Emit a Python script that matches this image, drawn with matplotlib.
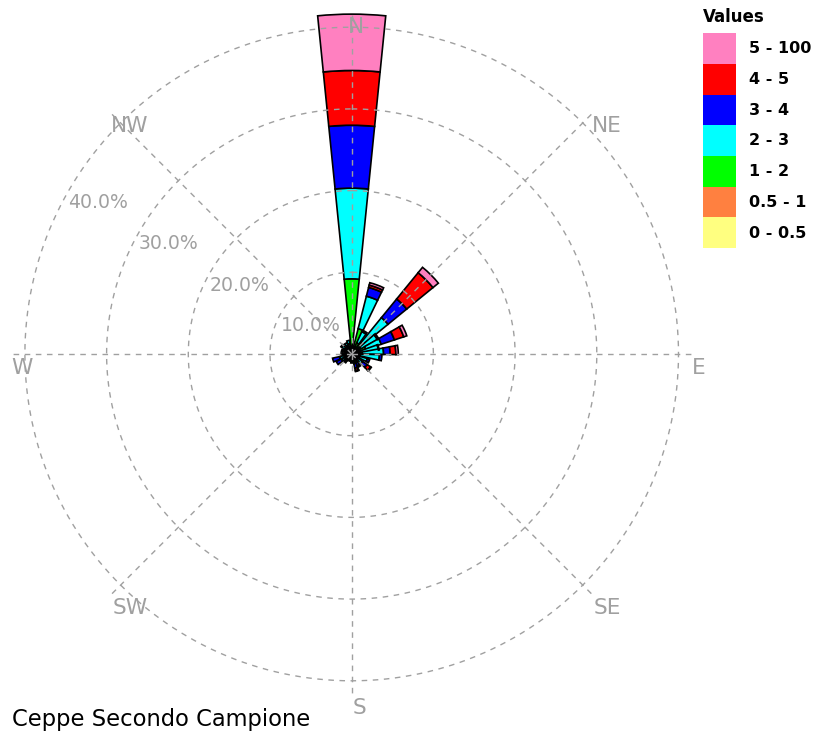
import numpy as np
import matplotlib
matplotlib.use("Agg")
import matplotlib.pyplot as plt

# Wind direction of each sector (degrees clockwise from north)
directions = [0, 20, 30, 45, 55, 66, 76, 85, 97, 112, 130, 150, 162, 180,
              200, 220, 238, 252, 270, 290, 310, 330, 345]

# Frequency (%) of each speed class per direction
speed_0_05 = [0.3, 0.2, 0.2, 0.2, 0.2, 0.2, 0.2, 0.2, 0.2, 0.2, 0.2, 0.2, 0.2, 0.2,
              0.2, 0.2, 0.2, 0.2, 0.2, 0.2, 0.2, 0.2, 0.2]
speed_05_1 = [0.3, 0.3, 0.2, 0.3, 0.2, 0.3, 0.2, 0.3, 0.2, 0.2, 0.2, 0.1, 0.2, 0.1,
              0.1, 0.1, 0.2, 0.2, 0.1, 0.1, 0.2, 0.2, 0.2]
speed_1_2 = [8.6, 2.7, 1.1, 1.2, 0.9, 1.3, 0.7, 0.7, 0.6, 0.5, 0.4, 0.4, 0.3, 0.3,
             0.2, 0.3, 0.4, 0.4, 0.4, 0.5, 0.6, 0.7, 0.9]
speed_2_3 = [11.1, 4.1, 1.5, 4.05, 2.3, 2.0, 2.2, 2.7, 2.4, 1.1, 0.8, 0.5, 0.5, 0.3,
             0.3, 0.4, 0.6, 0.7, 0.4, 0.4, 0.5, 0.4, 0.4]
speed_3_4 = [7.7, 1.1, 0.2, 2.95, 0.2, 1.7, 0.1, 0.8, 0.3, 0.3, 0.7, 0.4, 0.6, 0.2,
             0.1, 0.3, 0.7, 0.9, 0.2, 0.1, 0.1, 0.0, 0.0]
speed_4_5 = [6.7, 0.3, 0.0, 4.15, 0.0, 1.2, 0.0, 0.7, 0.0, 0.0, 0.5, 0.2, 0.3, 0.0,
             0.0, 0.0, 0.0, 0.0, 0.0, 0.0, 0.0, 0.0, 0.0]
speed_5_100 = [6.9, 0.3, 0.0, 0.85, 0.0, 0.4, 0.0, 0.3, 0.0, 0.0, 0.1, 0.0, 0.1, 0.0,
               0.0, 0.0, 0.0, 0.0, 0.0, 0.0, 0.0, 0.0, 0.0]

class_labels = ["0 - 0.5", "0.5 - 1", "1 - 2", "2 - 3", "3 - 4", "4 - 5", "5 - 100"]
class_colors = ["#FFFF80", "#FF8040", "#00FF00", "#00FFFF", "#0000FF", "#FF0000", "#FF80C0"]
class_values = [speed_0_05, speed_05_1, speed_1_2, speed_2_3, speed_3_4, speed_4_5, speed_5_100]

ring_values = [10, 20, 30, 40]
compass_labels = ["N", "NE", "E", "SE", "S", "SW", "W", "NW"]
title = "Ceppe Secondo Campione"

W, H = 814, 737
fig = plt.figure(figsize=(W / 100, H / 100), dpi=100)
fig.patch.set_facecolor("white")

# polar axes placed so that the origin sits at (cx, cy) pixels
cx, cy = 351.7, 354.0
r_max = 42.0
px_per_unit = 8.17
R = r_max * px_per_unit
ax = fig.add_axes([(cx - R) / W, (H - cy - R) / H, 2 * R / W, 2 * R / H], projection="polar")
ax.set_theta_zero_location("N")
ax.set_theta_direction(-1)
ax.set_ylim(0, r_max)
ax.axis("off")

grid_color = "#A0A0A0"
dash = (0, (4, 4))

# stacked sectors
theta = np.deg2rad(directions)
width = np.deg2rad(11.5)
bottom = np.zeros(len(directions))
for vals, col in zip(class_values, class_colors):
    v = np.asarray(vals, dtype=float)
    m = v > 0
    ax.bar(theta[m], v[m], width=width, bottom=bottom[m], color=col,
           edgecolor="black", linewidth=1.2, zorder=2)
    bottom = bottom + v

# dashed rings and spokes drawn over the bars
t = np.linspace(0, 2 * np.pi, 721)
for rv in ring_values:
    ax.plot(t, np.full_like(t, rv), color=grid_color, lw=1.0, ls=dash, zorder=3)
for k in range(8):
    a = np.deg2rad(45 * k)
    ax.plot([a, a], [0, 41.5], color=grid_color, lw=1.0, ls=dash, zorder=3)


def px(x, y):
    return x / W, 1 - y / H


# compass labels (centre x, baseline y in pixels)
compass_pos = {"N": (356, 33), "NE": (606.7, 132.3), "E": (699, 374), "SE": (607, 614),
               "S": (360, 714), "SW": (130, 614), "W": (22, 374), "NW": (129.5, 131.7)}
for lab in compass_labels:
    x, y = compass_pos[lab]
    fig.text(*px(x, y), lab, color=grid_color, fontsize=15.6, family="DejaVu Sans",
             ha="center", va="baseline")

# ring value labels
ring_pos = [(311, 331), (240, 290.7), (168, 249), (98.3, 207.7)]
for rv, (x, y) in zip(ring_values, ring_pos):
    fig.text(*px(x, y), f"{rv:.1f}%", color=grid_color, fontsize=13.6,
             family="DejaVu Sans", ha="center", va="baseline")

# legend
fig.text(*px(703.3, 21.7), "Values", fontsize=12, fontweight="bold",
         family="DejaVu Sans", ha="left", va="baseline")
box_h = 30.7
for i, (lab, col) in enumerate(zip(class_labels[::-1], class_colors[::-1])):
    top = 33.3 + i * box_h
    fig.patches.append(plt.Rectangle(px(703.3, top + box_h), 32.4 / W, box_h / H,
                                     transform=fig.transFigure, facecolor=col,
                                     edgecolor="none"))
    fig.text(*px(749.3, 53.3 + i * box_h), lab, fontsize=11.5, fontweight="bold",
             family="DejaVu Sans", ha="left", va="baseline")

fig.text(*px(11.5, 726), title, fontsize=16.3, family="DejaVu Sans",
         ha="left", va="baseline")

fig.savefig("out.png", dpi=100, facecolor="white")
